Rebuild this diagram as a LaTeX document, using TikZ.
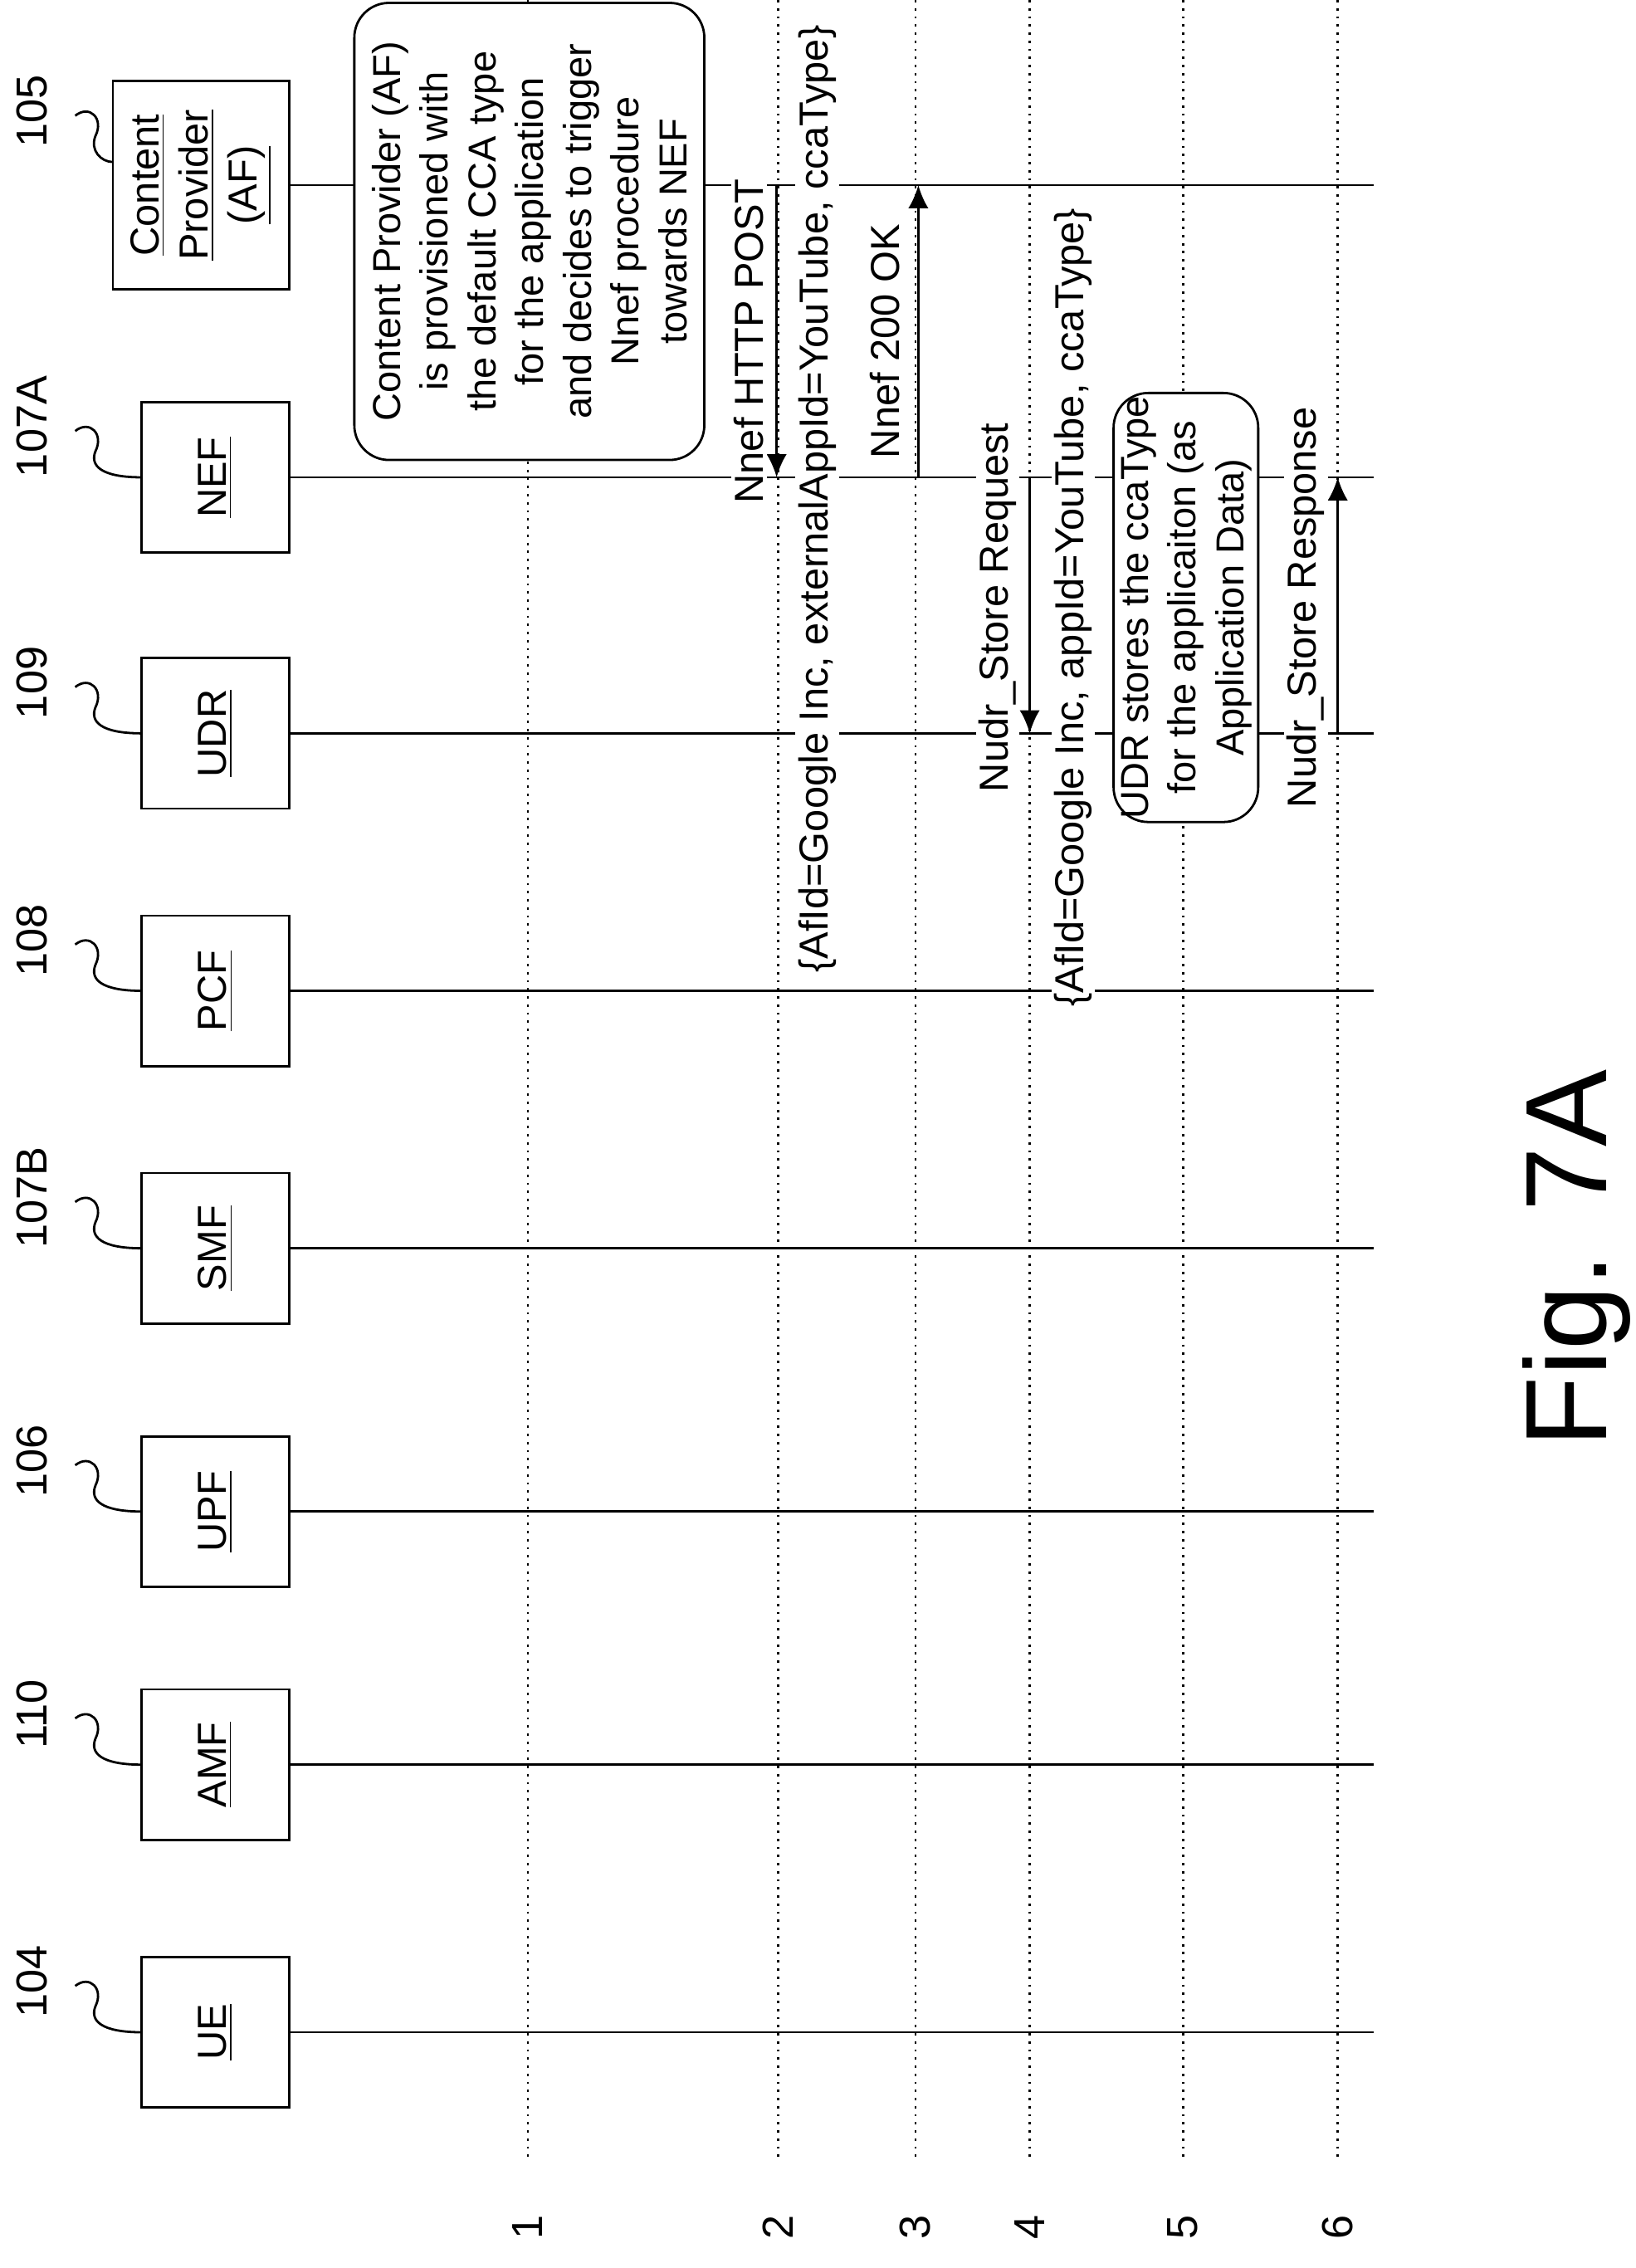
\documentclass[tikz,border=0pt]{standalone}
\usepackage{fontspec}
\setmainfont{Liberation Sans}
\usetikzlibrary{arrows.meta}
\begin{document}
\begin{tikzpicture}[x=0.5pt,y=-0.5pt,
 ent/.style={draw,thick,fill=white,rotate=90,minimum width=52pt,minimum height=51pt,inner sep=1pt,align=center,font=\fontsize{14}{17}\selectfont},
 num/.style={rotate=90,font=\fontsize{15}{18}\selectfont},
 lbl/.style={rotate=90,fill=white,inner sep=1pt,font=\fontsize{14}{17}\selectfont},
 life/.style={thick},
 dot/.style={thick,dotted},
 msg/.style={thick,-{Latex[length=8pt,width=7pt]}},
 note/.style={draw,thick,fill=white,rounded corners=12pt,rotate=90,align=center,inner sep=1pt,font=\fontsize{13.5}{16.5}\selectfont}]
\useasboundingbox (0,0) rectangle (1131,1568);
% dotted step lines
\foreach \x/\n in {365/1,538/2,633/3,712/4,818/5,925/6}{
  \draw[dot] (\x,0) -- (\x,1495);
  \node[num] (s\n) at (\x,1540) {\n};
}
% lifelines
\foreach \c in {128,330,507,685,863,1045,1220,1405}{\draw[life] (200,\c) -- (950,\c);}
% entities
\node[ent,minimum width=72pt,minimum height=61pt] (cp) at (139,128) {\underline{Content}\\\underline{Provider}\\\underline{(AF)}};
\node[ent] (nef) at (149,330) {\underline{NEF}};
\node[ent] (udr) at (149,507) {\underline{UDR}};
\node[ent] (pcf) at (149,685) {\underline{PCF}};
\node[ent] (smf) at (149,863) {\underline{SMF}};
\node[ent] (upf) at (149,1045) {\underline{UPF}};
\node[ent] (amf) at (149,1220) {\underline{AMF}};
\node[ent] (ue) at (149,1405) {\underline{UE}};
% reference numerals
\foreach \t/\c/\e in {105/112/78,107A/330/98,109/507/98,108/685/98,107B/863/98,106/1045/98,110/1220/98,104/1405/98}{
  \node[num] (r\t) at (22,\c-35) {\t};
  \draw[thick] (52,\c-32) .. controls (62,\c-40) and (72,\c-30) .. (66,\c-18) .. controls (62,\c-8) and (70,\c) .. (\e,\c);
}
% notes
\node[note,minimum width=158pt,minimum height=121pt] (n1) at (366,160) {Content Provider (AF)\\is provisioned with\\the default CCA type\\for the application\\and decides to trigger\\Nnef procedure\\towards NEF};
\node[note,minimum width=71pt,minimum height=50pt] (n2) at (820,420) {UDR stores the ccaType\\for the applicaiton (as\\Application Data)};
% message coordinates
\coordinate (a1) at (537,128); \coordinate (a2) at (537,330);
\coordinate (b1) at (635,330); \coordinate (b2) at (635,128);
\coordinate (c1) at (712,330); \coordinate (c2) at (712,507);
\coordinate (d1) at (925,507); \coordinate (d2) at (925,330);
\draw[msg] (a1) -- (a2);
\draw[msg] (b1) -- (b2);
\draw[msg] (c1) -- (c2);
\draw[msg] (d1) -- (d2);
\node[lbl] (t1) at (518,236) {Nnef HTTP POST};
\node[lbl] (t2) at (565,345) {\{AfId=Google Inc, externalAppId=YouTube, ccaType\}};
\node[lbl] (t3) at (612,236) {Nnef 200 OK};
\node[lbl] (t4) at (690,420) {Nudr\_Store Request};
\node[lbl] (t5) at (742,420) {\{AfId=Google Inc, appId=YouTube, ccaType\}};
\node[lbl] (t6) at (903,420) {Nudr\_Store Response};
\node[rotate=90,font=\fontsize{40}{44}\selectfont] (fig) at (1090,870) {Fig. 7A};
\end{tikzpicture}
\end{document}
